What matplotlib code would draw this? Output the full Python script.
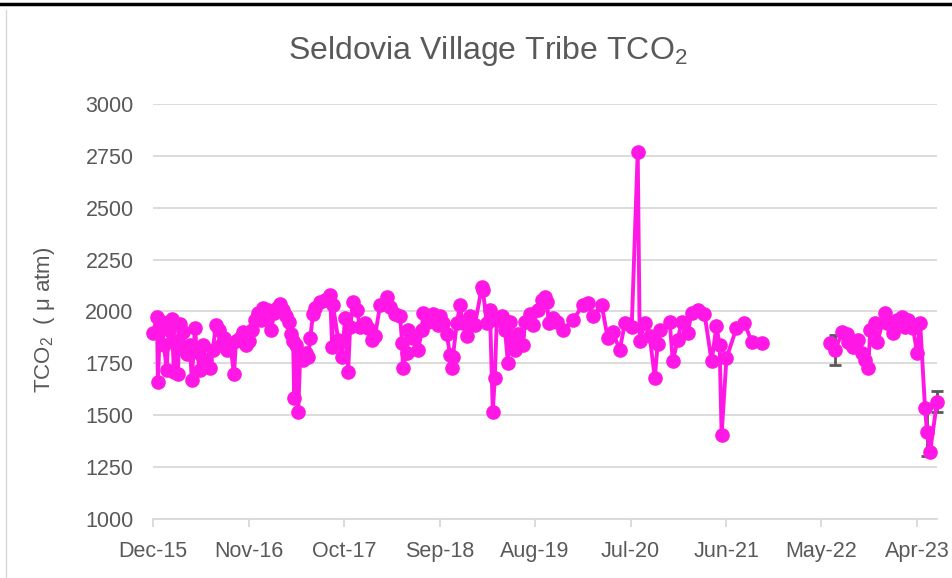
import numpy as np
import pandas as pd
import matplotlib
matplotlib.use("Agg")
import matplotlib.pyplot as plt
import matplotlib.dates as mdates
from matplotlib.lines import Line2D

# sample dates and TCO2 values
dates = [
    '2015-12-01', '2015-12-15', '2015-12-18', '2015-12-25', '2016-01-01', '2016-01-08',
    '2016-01-18', '2016-01-25', '2016-02-05', '2016-02-12', '2016-02-19', '2016-02-26',
    '2016-03-04', '2016-03-15', '2016-03-22', '2016-03-29', '2016-04-08', '2016-04-15',
    '2016-04-26', '2016-05-03', '2016-05-13', '2016-05-24', '2016-06-03', '2016-06-17',
    '2016-06-28', '2016-07-08', '2016-07-19', '2016-07-26', '2016-08-05', '2016-08-16',
    '2016-08-27', '2016-09-10', '2016-09-17', '2016-10-01', '2016-10-12', '2016-10-22',
    '2016-11-01', '2016-11-12', '2016-11-23', '2016-12-03', '2016-12-14', '2016-12-21',
    '2017-01-01', '2017-01-08', '2017-01-18', '2017-01-29', '2017-02-09', '2017-02-19',
    '2017-03-01', '2017-03-12', '2017-03-22', '2017-03-29', '2017-04-05', '2017-04-09',
    '2017-04-16', '2017-04-23', '2017-04-30', '2017-05-10', '2017-05-21', '2017-05-28',
    '2017-06-04', '2017-06-14', '2017-06-21', '2017-07-09', '2017-07-26', '2017-08-13',
    '2017-08-20', '2017-08-23', '2017-09-10', '2017-09-24', '2017-10-04', '2017-10-15',
    '2017-10-22', '2017-11-01', '2017-11-15', '2017-11-26', '2017-12-13', '2017-12-24',
    '2018-01-07', '2018-01-17', '2018-02-04', '2018-02-28', '2018-03-11', '2018-03-28',
    '2018-04-15', '2018-04-22', '2018-04-25', '2018-05-09', '2018-05-13', '2018-05-30',
    '2018-06-17', '2018-07-01', '2018-07-04', '2018-07-22', '2018-08-08', '2018-08-26',
    '2018-09-02', '2018-09-12', '2018-09-26', '2018-10-07', '2018-10-14', '2018-10-17',
    '2018-10-31', '2018-11-11', '2018-11-21', '2018-12-05', '2018-12-16', '2019-01-02',
    '2019-01-27', '2019-01-30', '2019-02-13', '2019-02-24', '2019-03-06', '2019-03-13',
    '2019-03-20', '2019-04-07', '2019-04-18', '2019-04-28', '2019-05-05', '2019-05-12',
    '2019-05-23', '2019-06-02', '2019-06-20', '2019-06-27', '2019-07-14', '2019-07-25',
    '2019-08-11', '2019-08-25', '2019-09-05', '2019-09-12', '2019-09-18', '2019-10-03',
    '2019-10-17', '2019-11-07', '2019-12-12', '2020-01-16', '2020-02-02', '2020-02-20',
    '2020-03-22', '2020-04-12', '2020-04-30', '2020-05-24', '2020-06-11', '2020-07-05',
    '2020-07-26', '2020-08-02', '2020-08-20', '2020-09-06', '2020-09-24', '2020-10-04',
    '2020-10-11', '2020-11-15', '2020-11-26', '2020-12-13', '2020-12-27', '2021-01-17',
    '2021-01-31', '2021-02-21', '2021-03-17', '2021-04-11', '2021-04-28', '2021-05-09',
    '2021-05-16', '2021-06-02', '2021-07-07', '2021-08-04', '2021-08-29', '2021-10-03',
    '2022-06-01', '2022-06-18', '2022-07-13', '2022-07-30', '2022-08-03', '2022-08-21',
    '2022-09-07', '2022-09-21', '2022-10-02', '2022-10-12', '2022-10-19', '2022-11-06',
    '2022-11-13', '2022-12-11', '2022-12-18', '2023-01-08', '2023-01-22', '2023-02-08',
    '2023-02-19', '2023-03-01', '2023-03-18', '2023-04-01', '2023-04-12', '2023-04-29',
    '2023-05-06', '2023-05-17', '2023-06-10',
]
tco2 = [
    1895, 1975, 1660, 1910, 1950, 1840,
    1720, 1910, 1965, 1710, 1860, 1700,
    1940, 1900, 1815, 1795, 1840, 1670,
    1920, 1805, 1720, 1840, 1765, 1730,
    1815, 1935, 1910, 1840, 1870, 1815,
    1845, 1700, 1860, 1870, 1900, 1840,
    1860, 1910, 1960, 1995, 1960, 2015,
    1965, 2005, 1910, 1995, 2015, 2035,
    2005, 1980, 1950, 1890, 1860, 1585,
    1840, 1515, 1790, 1765, 1800, 1780,
    1870, 1990, 2015, 2045, 2055, 2080,
    1830, 2030, 1865, 1780, 1970, 1710,
    1925, 2045, 2005, 1925, 1945, 1920,
    1865, 1880, 2030, 2070, 2020, 1990,
    1980, 1850, 1730, 1800, 1910, 1870,
    1815, 1910, 1995, 1950, 1990, 1935,
    1980, 1945, 1890, 1790, 1730, 1780,
    1945, 2030, 1945, 1880, 1980, 1935,
    2120, 2105, 1945, 2005, 1515, 1680,
    1960, 1980, 1910, 1750, 1950, 1840,
    1815, 1890, 1840, 1950, 1990, 1935,
    2005, 2055, 2070, 2045, 1945, 1970,
    1950, 1910, 1960, 2030, 2040, 1980,
    2030, 1870, 1900, 1815, 1945, 1925,
    2770, 1860, 1945, 1880, 1680, 1845,
    1910, 1950, 1760, 1865, 1950, 1895,
    1995, 2005, 1990, 1760, 1930, 1840,
    1405, 1775, 1920, 1945, 1855, 1850,
    1850, 1815, 1900, 1890, 1855, 1830,
    1865, 1800, 1765, 1730, 1910, 1945,
    1855, 1995, 1945, 1895, 1960, 1975,
    1925, 1960, 1920, 1800, 1945, 1535,
    1420, 1325, 1565,
]

# points that carry error bars
err_dates = ['2022-06-18', '2023-05-06', '2023-06-10']
err_vals = [1815, 1420, 1565]
err_size = [72, 115, 50]

tick_dates = ['2015-12-01', '2016-11-01', '2017-10-01', '2018-09-01', '2019-08-01',
              '2020-07-01', '2021-06-01', '2022-05-01', '2023-04-01']

pink = '#FF17E6'
grey_txt = '#595959'
plt.rcParams['font.family'] = ['Liberation Sans', 'DejaVu Sans']
plt.rcParams['mathtext.default'] = 'regular'

# break the line where the sampling stopped for months
x = pd.to_datetime(dates)
y = np.array(tco2, dtype=float)
gap = np.where(np.diff(x.values).astype('timedelta64[D]').astype(int) > 150)[0]
xs = list(x)
ys = list(y)
for i in gap[::-1]:
    xs.insert(i + 1, xs[i] + pd.Timedelta(days=1))
    ys.insert(i + 1, np.nan)

fig = plt.figure(figsize=(9.52, 5.78), dpi=100)
ax = fig.add_axes([153 / 952, 1 - 519 / 578, (937 - 153) / 952, (519 - 104) / 578])

ax.errorbar(pd.to_datetime(err_dates), err_vals, yerr=err_size, fmt='none',
            ecolor='#595959', elinewidth=2, capsize=4, capthick=2, zorder=2, clip_on=False)
ax.plot(xs, ys, color=pink, lw=2.8, marker='o', ms=9.5, zorder=3, clip_on=False)

ax.set_ylim(1000, 3000)
ax.set_yticks(np.arange(1000, 3001, 250))
ax.set_xlim(x[0], x[-1])
ax.set_xticks(pd.to_datetime(tick_dates))
ax.xaxis.set_major_formatter(mdates.DateFormatter('%b-%y'))

ax.grid(axis='y', color='#d9d9d9', lw=1.3)
ax.set_axisbelow(True)
for s in ['left', 'right', 'top']:
    ax.spines[s].set_visible(False)
ax.spines['bottom'].set_color('#d9d9d9')
ax.spines['bottom'].set_linewidth(1.3)
ax.tick_params(axis='x', direction='out', length=6, width=1.3, color='#d9d9d9',
               labelsize=15.5, labelcolor=grey_txt, pad=10)
ax.tick_params(axis='y', length=0, labelsize=15.5, labelcolor=grey_txt, pad=14)

fig.text(488 / 952, 1 - 51 / 578, 'Seldovia Village Tribe TCO$_{\\mathregular{2}}$',
         ha='center', va='center', fontsize=23, color=grey_txt)
fig.text(45 / 952, 1 - 320 / 578, 'TCO$_{\\mathregular{2}}$  ( \u03bc atm)', rotation=90,
         ha='center', va='center', fontsize=16, color=grey_txt)

# frame of the screenshot
fig.add_artist(Line2D([0, 1], [1 - 4 / 578, 1 - 4 / 578], color='black', lw=2.5))
fig.add_artist(Line2D([6 / 952, 6 / 952], [0, 1 - 10 / 578], color='#d9d9d9', lw=1))

fig.savefig('out.png', dpi=100)
